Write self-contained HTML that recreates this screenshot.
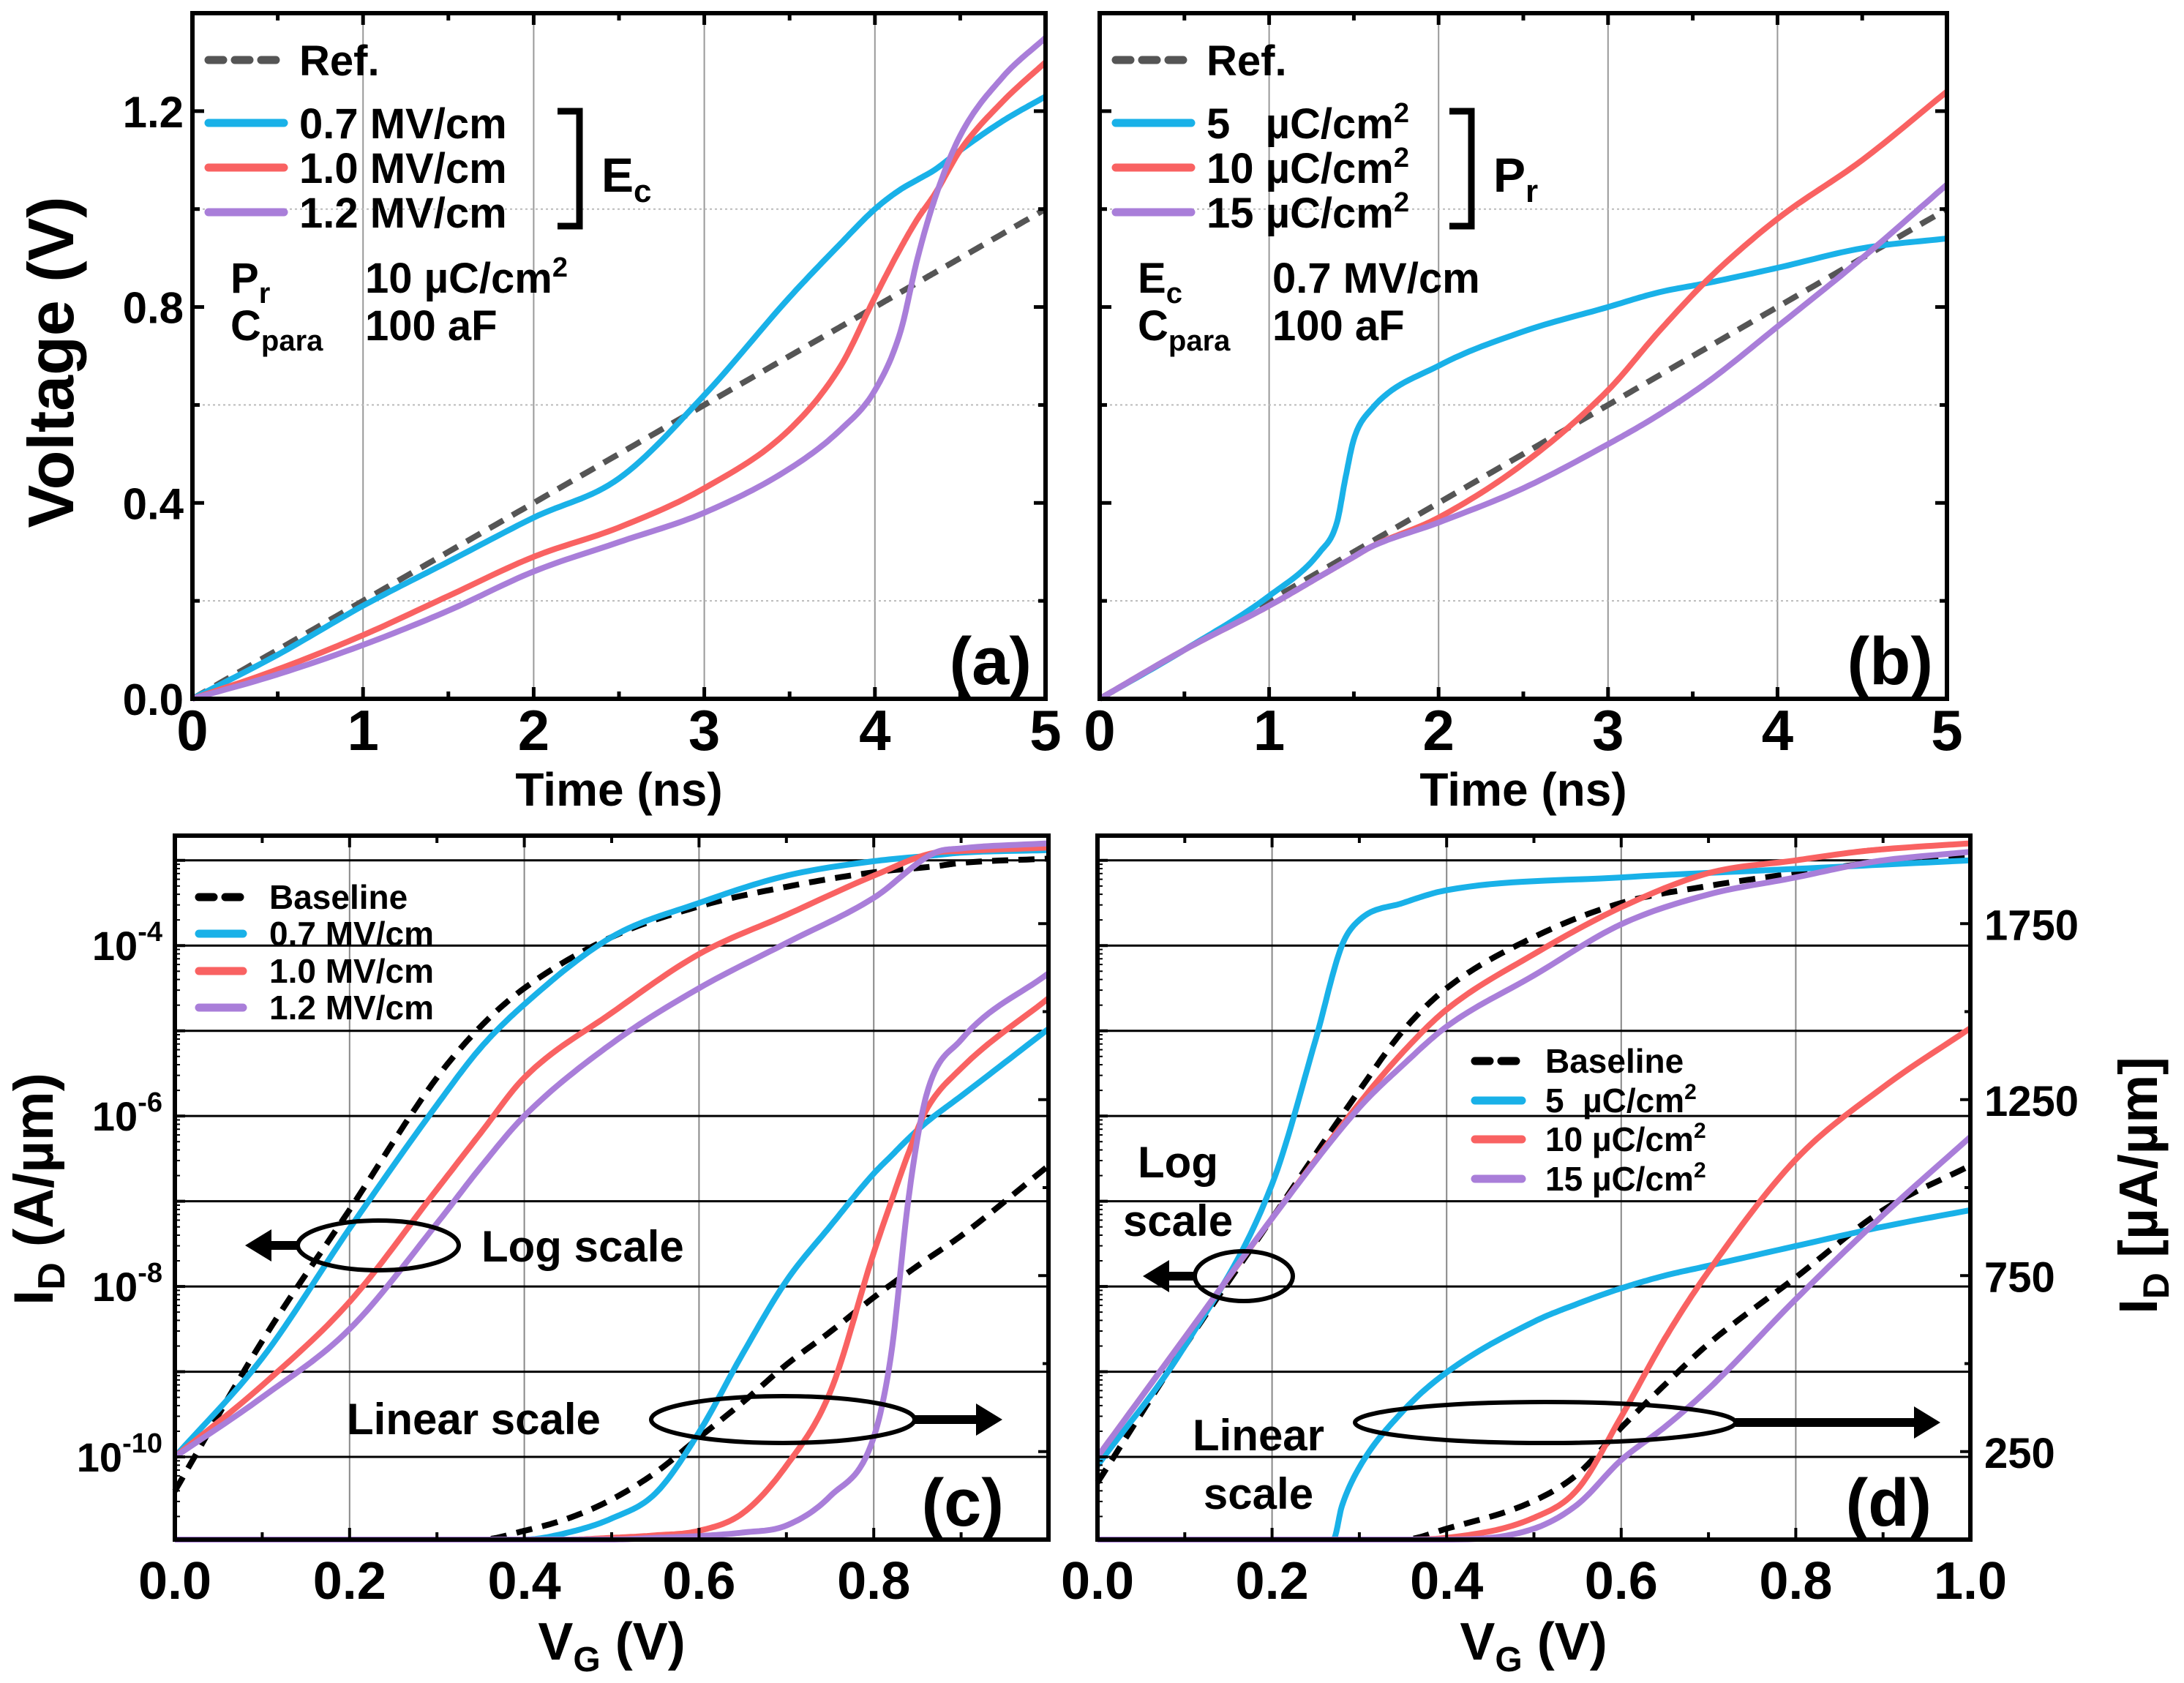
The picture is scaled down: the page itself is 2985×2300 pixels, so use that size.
<!DOCTYPE html>
<html><head><meta charset="utf-8"><style>
html,body{margin:0;padding:0;background:#fff}
svg{display:block;font-family:"Liberation Sans",Arial,sans-serif;font-weight:bold}
</style></head><body>
<svg id="fig" width="2985" height="2300" viewBox="0 0 2985 2300" xmlns="http://www.w3.org/2000/svg"></svg>
<script>
// ---------- data ----------
const tA = [0,0.5,1,1.5,2,2.5,3,3.5,3.8,4,4.15,4.25,4.35,4.5,4.75,5];
const aRef = [0,0.1,0.2,0.3,0.4,0.5,0.6,0.7,0.76,0.8,0.83,0.85,0.87,0.9,0.95,1.0];
const aBlue = [0,0.09,0.19,0.28,0.37,0.45,0.62,0.82,0.93,1.0,1.04,1.06,1.08,1.12,1.18,1.23];
const aRed = [0,0.06,0.13,0.21,0.29,0.35,0.43,0.55,0.68,0.82,0.92,0.98,1.03,1.12,1.22,1.30];
const aPurple = [0,0.05,0.11,0.18,0.26,0.32,0.38,0.47,0.55,0.63,0.75,0.9,1.02,1.15,1.27,1.35];
const tB = [0,0.5,1,1.3,1.4,1.45,1.5,1.6,2,2.5,3,3.3,3.6,4,4.5,5];
const bRef = [0,0.1,0.2,0.26,0.28,0.29,0.3,0.32,0.4,0.5,0.6,0.66,0.72,0.8,0.9,1.0];
const bBlue = [0,0.1,0.21,0.3,0.36,0.45,0.53,0.59,0.68,0.75,0.8,0.83,0.85,0.88,0.92,0.94];
const bRed = [0,0.1,0.19,0.25,0.27,0.28,0.29,0.31,0.37,0.48,0.63,0.75,0.86,0.98,1.1,1.24];
const bPurple = [0,0.1,0.19,0.25,0.27,0.28,0.29,0.31,0.36,0.43,0.52,0.58,0.65,0.76,0.9,1.05];
const vgLog = [0,0.1,0.2,0.3,0.35,0.4,0.5,0.6,0.7,0.8,0.87,0.9,1.0];
const cBaseLog = [-10.4,-8.64,-7.1,-5.55,-4.95,-4.5,-3.9,-3.54,-3.31,-3.14,-3.07,-3.03,-2.98];
const cBlueLog = [-10.0,-8.84,-7.32,-5.87,-5.2,-4.69,-3.9,-3.5,-3.18,-3.01,-2.94,-2.91,-2.88];
const cRedLog = [-10.0,-9.16,-8.18,-6.86,-6.2,-5.55,-4.79,-4.1,-3.64,-3.18,-2.91,-2.89,-2.85];
const cPurpleLog = [-10.0,-9.3,-8.5,-7.26,-6.6,-6.0,-5.15,-4.5,-3.97,-3.44,-2.91,-2.86,-2.8];
const vgLin = [0,0.35,0.4,0.45,0.5,0.55,0.6,0.65,0.7,0.75,0.8,0.82,0.84,0.86,0.9,1.0];
const cBaseLin = [0,0,25,60,114,190,290,390,497,590,688,725,760,795,863,1062];
const cBlueLin = [0,0,0,20,60,131,305,528,735,890,1040,1090,1140,1185,1260,1451];
const cRedLin = [0,0,0,0,5,12,25,75,210,418,815,960,1100,1220,1339,1538];
const cPurpleLin = [0,0,0,0,0,5,10,20,40,123,291,528,973,1260,1420,1609];
const dBaseLog = [-10.3,-8.7,-7.2,-5.7,-5.0,-4.5,-3.9,-3.5,-3.3,-3.15,-3.05,-3.02,-2.95];
const vgBlueD = [0,0.1,0.2,0.25,0.28,0.3,0.35,0.4,0.6,0.8,1.0];
const dBlueLog = [-10.1,-8.7,-6.8,-5.1,-4.0,-3.7,-3.5,-3.35,-3.2,-3.1,-3.0];
const dRedLog = [-10.0,-8.6,-7.2,-5.85,-5.25,-4.75,-4.1,-3.55,-3.15,-3.0,-2.9,-2.87,-2.8];
const dPurpleLog = [-10.0,-8.6,-7.2,-5.9,-5.4,-4.95,-4.35,-3.75,-3.4,-3.2,-3.05,-3.0,-2.9];
const vgLinD = [0,0.27,0.28,0.3,0.35,0.4,0.5,0.55,0.6,0.65,0.7,0.8,0.9,1.0];
const dBlueLin = [0,0,95,205,365,475,619,670,714,750,778,834,889,936];
const dRedLin = [0,0,0,0,0,5,62,143,349,571,762,1080,1285,1453];
const dBaseLin = [0,0,0,0,0,31,110,186,318,440,556,745,936,1063];
const dPurpleLin = [0,0,0,0,0,0,31,100,226,320,428,683,922,1144];
const timeTicks = ["0","1","2","3","4","5"];
const voltTicks = ["0.0","0.4","0.8","1.2"];
const vgTicks = ["0.0","0.2","0.4","0.6","0.8","1.0"];
const logTicks = [-4,-6,-8,-10];
const linTicks = [250,750,1250,1750];

// ---------- helpers ----------
const NS = "http://www.w3.org/2000/svg";
const svg = document.getElementById('fig');
function el(tag, attrs, parent, text){
  const e = document.createElementNS(NS, tag);
  for (const k in attrs) e.setAttribute(k, attrs[k]);
  if (text !== undefined) e.textContent = text;
  (parent || svg).appendChild(e);
  return e;
}
// monotone cubic (Fritsch-Carlson) in data space -> sampled polyline
function monoSample(xs, ys, n){
  const m = xs.length, d = [], t = new Array(m);
  for (let i=0;i<m-1;i++) d.push((ys[i+1]-ys[i])/(xs[i+1]-xs[i]));
  t[0]=d[0]; t[m-1]=d[m-2];
  for (let i=1;i<m-1;i++) t[i] = (d[i-1]*d[i]<=0)?0:(d[i-1]+d[i])/2;
  for (let i=0;i<m-1;i++){
    if (d[i]===0){ t[i]=0; t[i+1]=0; continue; }
    const a=t[i]/d[i], b=t[i+1]/d[i], s=a*a+b*b;
    if (s>9){ const k=3/Math.sqrt(s); t[i]=k*a*d[i]; t[i+1]=k*b*d[i]; }
  }
  const out=[];
  for (let i=0;i<m-1;i++){
    const h=xs[i+1]-xs[i];
    for (let j=0;j<n;j++){
      const u=j/n, h00=2*u*u*u-3*u*u+1, h10=u*u*u-2*u*u+u, h01=-2*u*u*u+3*u*u, h11=u*u*u-u*u;
      out.push([xs[i]+u*h, h00*ys[i]+h10*h*t[i]+h01*ys[i+1]+h11*h*t[i+1]]);
    }
  }
  out.push([xs[m-1], ys[m-1]]);
  return out;
}
const BLUE = "#19b1e8", RED = "#f96262", PURPLE = "#a97ed9", GRAY = "#555";
function series(g, xs, ys, sx, sy, color, dashed, name){
  const pts = monoSample(xs, ys, 16).map(p=>sx(p[0]).toFixed(1)+","+sy(p[1]).toFixed(1));
  const p = el('path', {d: "M"+pts.join(" L"), fill:'none', stroke: color, 'stroke-width': 8, 'stroke-linejoin':'round', 'stroke-dasharray': dashed ? '22,14' : 'none'}, g);
  
  
  return p;
}
function lin(d0,d1,p0,p1){ return v => p0 + (v-d0)/(d1-d0)*(p1-p0); }
function frame(g, L, T, R, B){
  const r = el('rect', {x:L, y:T, width:R-L, height:B-T, fill:'none', stroke:'#000', 'stroke-width':6}, g);
  
  
}
function txt(g, x, y, s, size, anchor, name){
  const t = el('text', {x:x, y:y, 'font-size':size, 'text-anchor':anchor||'start'}, g, s);
  
  
  return t;
}
function legendLine(g, x1, x2, y, color, dashed, name){
  const l = el('line', {x1:x1, x2:x2, y1:y, y2:y, stroke:color, 'stroke-width':11, 'stroke-linecap':'round', 'stroke-dasharray': dashed ? '20,16':'none'}, g);
  
  
}

// ---------- panels (a),(b) ----------
function voltagePanel(id, L, R, T, B, xs, ref, s1, s2, s3, yLabels){
  const g = el('g', {});  
  const sx = lin(0,5,L,R), sy = lin(0,1.4,B,T);
  [1,2,3,4].forEach(v=>el('line',{x1:sx(v),x2:sx(v),y1:T,y2:B,stroke:'#999','stroke-width':2},g));
  [0.2,0.6,1.0].forEach(v=>el('line',{x1:L,x2:R,y1:sy(v),y2:sy(v),stroke:'#bbb','stroke-width':2,'stroke-dasharray':'3,4'},g));
  series(g, xs, ref, sx, sy, GRAY, true, 'ref-line');
  series(g, xs, s1, sx, sy, BLUE, false, 'series-1');
  series(g, xs, s2, sx, sy, RED, false, 'series-2');
  series(g, xs, s3, sx, sy, PURPLE, false, 'series-3');
  frame(g, L, T, R, B);
  for (let v=0; v<=5.001; v+=0.5){
    const len = (Math.abs(v-Math.round(v))<0.01) ? 16 : 10;
    el('line',{x1:sx(v),x2:sx(v),y1:B,y2:B-len,stroke:'#000','stroke-width':5},g);
    el('line',{x1:sx(v),x2:sx(v),y1:T,y2:T+len,stroke:'#000','stroke-width':5},g);
  }
  for (let v=0; v<=1.401; v+=0.2){
    const len = (Math.round(v*10)%4===0) ? 16 : 10;
    el('line',{x1:L,x2:L+len,y1:sy(v),y2:sy(v),stroke:'#000','stroke-width':5},g);
    el('line',{x1:R,x2:R-len,y1:sy(v),y2:sy(v),stroke:'#000','stroke-width':5},g);
  }
  timeTicks.forEach((s,i)=>txt(g, sx(+s), B+70, s, 78, 'middle', 'x-tick-label'));
  if (yLabels) voltTicks.forEach(s=>txt(g, L-12, sy(+s)+22, s, 60, 'end', 'y-tick-label'));
  txt(g, (L+R)/2, B+146, 'Time (ns)', 64, 'middle', 'x-axis-title');
  return {g, sx, sy};
}
const A = voltagePanel('a', 263, 1429, 18, 955, tA, aRef, aBlue, aRed, aPurple, true);
const Bp = voltagePanel('b', 1503, 2661, 18, 955, tB, bRef, bBlue, bRed, bPurple, false);
{
  const t = el('text', {x:0, y:0, 'font-size':88, 'text-anchor':'middle', transform:'translate(100,495) rotate(-90)'}, svg, 'Voltage (V)');
   
}
function legendAB(g, ox, labels, brackLabel, brackX, p1, p1v){
  const rows = [82,168,229,290];
  legendLine(g, ox+22, ox+125, rows[0], GRAY, true, 'legend-ref');
  legendLine(g, ox+22, ox+125, rows[1], BLUE, false, 'legend-series-1');
  legendLine(g, ox+22, ox+125, rows[2], RED, false, 'legend-series-2');
  legendLine(g, ox+22, ox+125, rows[3], PURPLE, false, 'legend-series-3');
  txt(g, ox+146, rows[0]+21, 'Ref.', 58, 'start', 'legend-label');
  labels.forEach((s,i)=>{ const t = txt(g, ox+146, rows[i+1]+21, '', 58, 'start', 'legend-label'); t.innerHTML = s; });
  const b = el('path',{d:`M${brackX},152 H${brackX+30} V309 H${brackX}`, fill:'none', stroke:'#000','stroke-width':9}, g);
   
  const bl = txt(g, brackX+60, 262, '', 66, 'start', 'bracket-label'); bl.innerHTML = brackLabel;
  const r1 = txt(g, ox+52, 400, '', 58, 'start', 'param-label'); r1.innerHTML = p1;
  const v1 = txt(g, ox+236, 400, '', 58, 'start', 'param-value'); v1.innerHTML = p1v;
  const r2 = txt(g, ox+52, 465, '', 58, 'start', 'param-label'); r2.innerHTML = 'C<tspan font-size="40" dy="14">para</tspan>';
  txt(g, ox+236, 465, '100 aF', 58, 'start', 'param-value');
}
const CM2 = 'µC/cm<tspan font-size="38" dy="-22">2</tspan>';
legendAB(A.g, 263, ['0.7 MV/cm','1.0 MV/cm','1.2 MV/cm'], 'E<tspan font-size="44" dy="14">c</tspan>', 762,
  'P<tspan font-size="40" dy="14">r</tspan>', '10 '+CM2);
legendAB(Bp.g, 1503, ['5&#160;&#160;&#160;'+CM2,'10 '+CM2,'15 '+CM2], 'P<tspan font-size="44" dy="14">r</tspan>', 1981,
  'E<tspan font-size="40" dy="14">c</tspan>', '0.7 MV/cm');
txt(A.g, 1410, 935, '(a)', 92, 'end', 'panel-label-a');
txt(Bp.g, 2642, 935, '(b)', 92, 'end', 'panel-label-b');

// ---------- panels (c),(d) ----------
function idPanel(id, L, R, T, B, logX, logS, linS, linX){
  const g = el('g', {});  
  const sx = lin(0,1,L,R);
  const syLog = lin(-10.97,-2.71,B,T);
  const syLin = lin(0,2000,B,T);
  [0.2,0.4,0.6,0.8].forEach(v=>el('line',{x1:sx(v),x2:sx(v),y1:T,y2:B,stroke:'#888','stroke-width':2},g));
  for (let d=-10; d<=-3; d++) el('line',{x1:L,x2:R,y1:syLog(d),y2:syLog(d),stroke:'#000','stroke-width':3},g);
  const names = ['baseline','series-1','series-2','series-3'];
  const cols = ['#000',BLUE,RED,PURPLE];
  logS.forEach((ys,i)=>series(g, logX[i], ys, sx, syLog, cols[i], i===0, names[i]+'-log'));
  linS.forEach((ys,i)=>series(g, linX, ys, sx, syLin, cols[i], i===0, names[i]+'-linear'));
  frame(g, L, T, R, B);
  for (let v=0; v<=1.001; v+=0.1){
    const len = (Math.round(v*10)%2===0)?16:10;
    el('line',{x1:sx(v),x2:sx(v),y1:B,y2:B-len,stroke:'#000','stroke-width':4},g);
    el('line',{x1:sx(v),x2:sx(v),y1:T,y2:T+len,stroke:'#000','stroke-width':4},g);
  }
  for (let d=-11; d<=-3; d++){
    if (d>=-10) el('line',{x1:L,x2:L+14,y1:syLog(d),y2:syLog(d),stroke:'#000','stroke-width':4},g);
    for (let k=2;k<=9;k++){ const yy = syLog(d+Math.log10(k)); if (yy>T && yy<B) el('line',{x1:L,x2:L+7,y1:yy,y2:yy,stroke:'#000','stroke-width':2},g); }
  }
  for (let v=250; v<2000; v+=250){
    el('line',{x1:R,x2:R-((v/250)%2?14:8),y1:syLin(v),y2:syLin(v),stroke:'#000','stroke-width':4},g);
  }
  return {g, sx, syLog, syLin};
}
const C = idPanel('c', 239, 1433, 1142, 2104, [vgLog,vgLog,vgLog,vgLog], [cBaseLog,cBlueLog,cRedLog,cPurpleLog], [cBaseLin,cBlueLin,cRedLin,cPurpleLin], vgLin);
const D = idPanel('d', 1500, 2693, 1142, 2104, [vgLog,vgBlueD,vgLog,vgLog], [dBaseLog,dBlueLog,dRedLog,dPurpleLog], [dBaseLin,dBlueLin,dRedLin,dPurpleLin], vgLinD);
vgTicks.slice(0,5).forEach(s=>txt(C.g, C.sx(+s), 2185, s, 72, 'middle', 'x-tick-label'));
vgTicks.forEach(s=>txt(D.g, D.sx(+s), 2185, s, 72, 'middle', 'x-tick-label'));
logTicks.forEach(d=>{ const t = txt(C.g, 222, C.syLog(d)+20, '', 56, 'end', 'y-tick-label'); t.innerHTML = '10<tspan font-size="38" dy="-26">'+d+'</tspan>'; });
linTicks.forEach(v=>txt(D.g, 2712, D.syLin(v)+22, String(v), 58, 'start', 'y2-tick-label'));
[C,D].forEach((P,i)=>{ const t = txt(P.g, (i?2096:836), 2268, '', 72, 'middle', 'x-axis-title'); t.innerHTML = 'V<tspan font-size="48" dy="16">G</tspan><tspan dy="-16"> (V)</tspan>'; });
{
  const t = el('text',{x:0,y:0,'font-size':76,'text-anchor':'middle',transform:'translate(72,1625) rotate(-90)'},svg);
  t.innerHTML = 'I<tspan font-size="52" dy="16">D</tspan><tspan dy="-16"> (A/µm)</tspan>';
   
  const t2 = el('text',{x:0,y:0,'font-size':74,'text-anchor':'middle',transform:'translate(2948,1620) rotate(-90)'},svg);
  t2.innerHTML = 'I<tspan font-size="50" dy="16">D</tspan><tspan dy="-16"> [µA/µm]</tspan>';
   
}
function legendCD(g, x1, x2, tx, rows, labels){
  const cols = ['#000',BLUE,RED,PURPLE];
  rows.forEach((y,i)=>{ legendLine(g, x1, x2, y, cols[i], i===0, 'legend-line'); const t = txt(g, tx, y+16, '', 46, 'start', 'legend-label'); t.innerHTML = labels[i]; });
}
const CM2s = 'µC/cm<tspan font-size="30" dy="-18">2</tspan>';
legendCD(C.g, 272, 332, 368, [1226,1276,1327,1377], ['Baseline','0.7 MV/cm','1.0 MV/cm','1.2 MV/cm']);
legendCD(D.g, 2016, 2080, 2112, [1450,1504,1557,1611], ['Baseline','5&#160;&#160;'+CM2s,'10 '+CM2s,'15 '+CM2s]);
function ellipse(g, cx, cy, rx, ry, name){
  const e = el('ellipse',{cx,cy,rx,ry,fill:'none',stroke:'#000','stroke-width':6},g);
   
}
function arrow(g, x1, x2, y, name){
  const dir = Math.sign(x2-x1);
  const a = el('g',{},g);  
  el('line',{x1,x2:x2-dir*30,y1:y,y2:y,stroke:'#000','stroke-width':12},a);
  el('polygon',{points:`${x2},${y} ${x2-dir*36},${y-22} ${x2-dir*36},${y+22}`,fill:'#000'},a);
}
ellipse(C.g, 517, 1702, 110, 34, 'log-ellipse'); arrow(C.g, 410, 335, 1702, 'log-arrow');
txt(C.g, 658, 1724, 'Log scale', 60, 'start', 'log-scale-label');
ellipse(C.g, 1070, 1940, 180, 32, 'linear-ellipse'); arrow(C.g, 1250, 1370, 1940, 'linear-arrow');
txt(C.g, 474, 1960, 'Linear scale', 60, 'start', 'linear-scale-label');
txt(C.g, 1372, 2085, '(c)', 92, 'end', 'panel-label-c');
ellipse(D.g, 1700, 1744, 67, 34, 'log-ellipse'); arrow(D.g, 1633, 1562, 1744, 'log-arrow');
txt(D.g, 1610, 1609, 'Log', 60, 'middle', 'log-label'); txt(D.g, 1610, 1689, 'scale', 60, 'middle', 'scale-label');
ellipse(D.g, 2112, 1944, 260, 28, 'linear-ellipse'); arrow(D.g, 2372, 2652, 1944, 'linear-arrow');
txt(D.g, 1720, 1982, 'Linear', 60, 'middle', 'linear-label'); txt(D.g, 1720, 2062, 'scale', 60, 'middle', 'scale-label');
txt(D.g, 2640, 2085, '(d)', 92, 'end', 'panel-label-d');
</script>
</body></html>
